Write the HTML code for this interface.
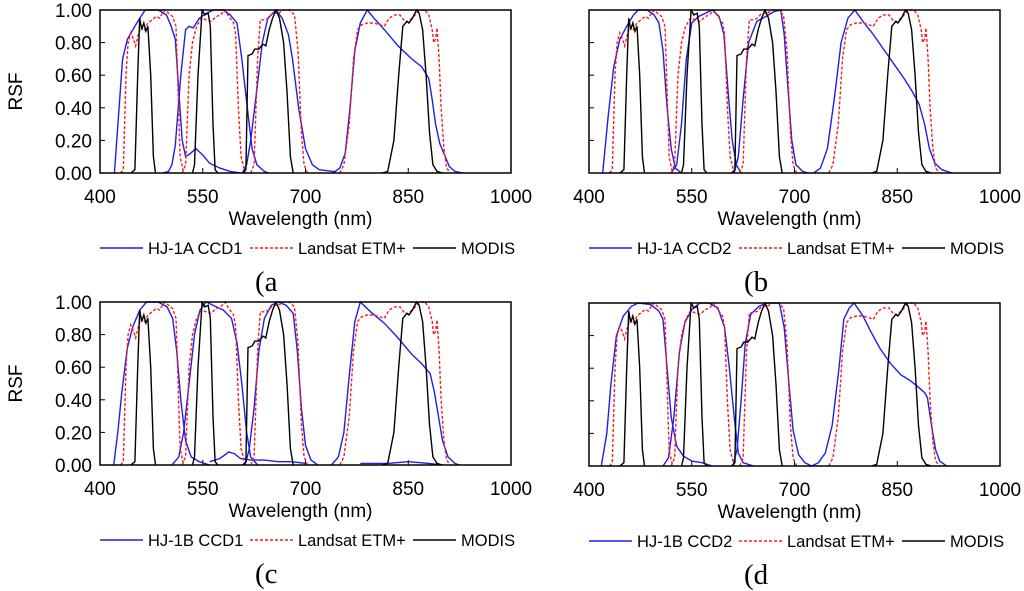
<!DOCTYPE html>
<html><head><meta charset="utf-8"><style>
body{margin:0;background:#fff;}
svg{display:block;font-family:"Liberation Sans",sans-serif;}
</style></head><body>
<svg id="fig" width="1024" height="591" viewBox="0 0 1024 591" xmlns="http://www.w3.org/2000/svg"></svg>
<script>
const modisBands = [
 [[445,0],[451,0.02],[455,0.6],[458,0.95],[461,0.88],[464,0.92],[467,0.87],[470,0.9],[474,0.6],[478,0.1],[481,0]],
 [[535,0],[538,0.05],[543,0.6],[549,1.0],[553,0.97],[558,0.98],[561,0.9],[565,0.3],[568,0.02],[572,0]],
 [[608,0],[613,0.02],[616,0.72],[622,0.73],[626,0.76],[632,0.76],[638,0.79],[642,0.78],[647,0.88],[652,0.95],[657,1.0],[662,0.95],[668,0.8],[673,0.5],[678,0.1],[682,0]],
 [[812,0],[820,0.01],[829,0.2],[836,0.6],[842,0.9],[848,0.93],[851,0.92],[856,0.95],[862,1.0],[866,0.98],[871,0.88],[876,0.6],[881,0.25],[886,0.05],[892,0.01],[900,0]]
];
const landsatBands = [
 [[430,0],[434,0.02],[438,0.6],[441,0.8],[445,0.86],[449,0.82],[452,0.78],[456,0.85],[460,0.9],[465,0.88],[470,0.92],[476,0.94],[482,0.96],[487,0.95],[491,0.98],[495,1.0],[500,0.98],[506,0.96],[511,0.9],[514,0.5],[517,0.1],[522,0]],
 [[520,0],[525,0.05],[530,0.6],[535,0.8],[541,0.9],[548,0.95],[555,0.94],[562,0.93],[570,0.96],[576,0.97],[582,1.0],[588,0.96],[595,0.92],[598,0.85],[602,0.4],[606,0.1],[612,0]],
 [[620,0],[625,0.05],[630,0.7],[634,0.94],[640,0.94],[646,0.95],[652,0.98],[660,0.98],[668,1.0],[676,1.0],[684,0.97],[689,0.75],[694,0.25],[698,0.05],[703,0]],
 [[750,0],[756,0.05],[764,0.3],[770,0.7],[776,0.88],[782,0.91],[790,0.92],[800,0.92],[808,0.91],[815,0.9],[822,0.95],[830,0.97],[838,0.97],[845,0.93],[850,0.93],[858,0.96],[866,1.0],[874,1.0],[880,0.97],[885,0.88],[887,0.8],[890,0.82],[892,0.89],[895,0.7],[898,0.4],[902,0.15],[906,0.03],[912,0]]
];
const hj1aCcd1 = [
 [[421,0],[427,0.35],[433,0.7],[440,0.82],[448,0.88],[458,0.95],[466,1.0],[485,1.0],[497,0.97],[504,0.9],[510,0.82],[515,0.5],[520,0.2],[525,0.1],[532,0.12],[540,0.15],[550,0.11],[560,0.06],[575,0.03],[590,0.01],[605,0]],
 [[492,0],[500,0.01],[505,0.05],[510,0.17],[518,0.6],[525,0.88],[530,0.9],[536,0.89],[545,0.95],[555,0.98],[566,1.0],[580,1.0],[590,0.97],[600,0.92],[607,0.7],[615,0.4],[622,0.15],[629,0.05],[640,0.01],[646,0]],
 [[608,0],[614,0.05],[620,0.2],[630,0.55],[637,0.8],[645,0.95],[657,1.0],[666,0.95],[675,0.85],[681,0.7],[690,0.4],[700,0.15],[710,0.05],[720,0.02],[740,0.01],[745,0.01]],
 [[740,0],[750,0.03],[758,0.12],[765,0.4],[772,0.75],[780,0.92],[790,1.0],[800,0.95],[815,0.88],[835,0.78],[855,0.7],[870,0.65],[880,0.58],[885,0.45],[890,0.3],[896,0.18],[902,0.12],[910,0.04],[918,0.01],[930,0]]
];
const hj1aCcd2 = [
 [[420,0],[428,0.35],[436,0.65],[445,0.82],[455,0.9],[465,0.97],[472,1.0],[485,1.0],[495,0.97],[502,0.92],[508,0.75],[514,0.4],[520,0.15],[526,0.03],[535,0]],
 [[520,0],[528,0.05],[535,0.3],[542,0.7],[550,0.92],[560,0.96],[570,0.98],[580,1.0],[590,0.96],[597,0.85],[603,0.5],[609,0.2],[615,0.05],[622,0]],
 [[612,0],[618,0.1],[625,0.45],[633,0.8],[645,0.93],[658,0.96],[670,0.99],[680,1.0],[685,0.85],[690,0.55],[696,0.2],[702,0.05],[712,0.01],[720,0]],
 [[728,0],[738,0.03],[748,0.15],[758,0.45],[768,0.8],[778,0.95],[788,1.0],[800,0.93],[815,0.85],[830,0.76],[845,0.67],[860,0.58],[872,0.5],[882,0.42],[890,0.3],[897,0.15],[905,0.06],[915,0.02],[930,0]]
];
const hj1bCcd1 = [
 [[420,0],[426,0.2],[432,0.45],[440,0.72],[448,0.85],[458,0.95],[468,1.0],[485,1.0],[498,0.97],[506,0.9],[512,0.7],[518,0.4],[525,0.15],[533,0.05],[545,0.02],[560,0]],
 [[505,0],[515,0.05],[522,0.2],[530,0.5],[538,0.8],[546,0.95],[555,1.0],[565,0.98],[580,0.95],[592,0.9],[600,0.75],[607,0.5],[614,0.2],[620,0.05],[630,0]],
 [[560,0.02],[575,0.04],[588,0.08],[596,0.07],[605,0.04],[620,0.03],[640,0.03],[660,0.02],[680,0.02],[700,0.01]],
 [[612,0],[618,0.1],[625,0.35],[632,0.7],[640,0.9],[650,0.98],[660,1.0],[672,0.98],[682,0.93],[688,0.7],[694,0.35],[700,0.12],[708,0.03],[718,0]],
 [[738,0],[748,0.05],[756,0.2],[764,0.55],[772,0.88],[780,1.0],[795,0.94],[815,0.87],[835,0.78],[855,0.68],[870,0.62],[882,0.56],[888,0.45],[894,0.3],[900,0.15],[908,0.05],[918,0.01],[925,0]],
 [[780,0.01],[820,0.01],[850,0.02],[880,0.01],[900,0]]
];
const hj1bCcd2 = [
 [[418,0],[426,0.2],[432,0.5],[440,0.8],[450,0.92],[462,0.98],[472,1.0],[490,0.99],[502,0.95],[508,0.9],[514,0.6],[520,0.3],[528,0.12],[538,0.06],[550,0.03],[565,0.02],[580,0]],
 [[508,0],[516,0.05],[524,0.3],[532,0.7],[540,0.88],[550,0.96],[562,1.0],[575,1.0],[588,0.97],[598,0.85],[605,0.6],[612,0.3],[618,0.08],[625,0.02],[640,0]],
 [[610,0],[616,0.1],[622,0.4],[628,0.75],[636,0.93],[648,0.98],[660,1.0],[678,1.0],[685,0.85],[692,0.5],[698,0.22],[706,0.07],[715,0.02],[725,0]],
 [[725,0],[735,0.02],[745,0.08],[755,0.25],[765,0.6],[772,0.9],[780,0.97],[787,1.0],[800,0.92],[812,0.82],[825,0.72],[840,0.63],[855,0.56],[870,0.52],[882,0.48],[890,0.45],[894,0.42],[900,0.25],[906,0.1],[912,0.03],[922,0]]
];
const xTicks = [400,550,700,850,1000];
const yTicks = [0,0.2,0.4,0.6,0.8,1.0];

const panels = [
 {id:'a',hj:hj1aCcd1,name:'HJ-1A CCD1',L:100,T:10,labels:true},
 {id:'b',hj:hj1aCcd2,name:'HJ-1A CCD2',L:589,T:10,labels:false},
 {id:'c',hj:hj1bCcd1,name:'HJ-1B CCD1',L:100,T:302,labels:true},
 {id:'d',hj:hj1bCcd2,name:'HJ-1B CCD2',L:589,T:303,labels:false}
];
const W=411,H=163;
const NS='http://www.w3.org/2000/svg';
const svg=document.getElementById('fig');
function mk(tag,attrs,parent){const e=document.createElementNS(NS,tag);for(const k in attrs)e.setAttribute(k,attrs[k]);(parent||svg).appendChild(e);return e;}

panels.forEach(p=>{
  const g=mk('g',{});
  
  
  const xs=w=>p.L+(w-400)/600*W;
  const ys=v=>p.T+H-v*H;
  const clipId='clip'+p.id;
  const cp=mk('clipPath',{id:clipId},g);mk('rect',{x:p.L,y:p.T-1,width:W,height:H+1},cp);
  yTicks.forEach(v=>{
    const t=mk('line',{x1:p.L,x2:p.L+5,y1:ys(v),y2:ys(v),stroke:'#000','stroke-width':1},g);
    
    
    if(p.labels){
      const tx=mk('text',{x:p.L-8,y:ys(v)+7,'text-anchor':'end','font-size':19},g);
      tx.textContent=v.toFixed(2);
      
      
    }
  });
  xTicks.forEach(w=>{
    const t=mk('line',{x1:xs(w),x2:xs(w),y1:p.T+H,y2:p.T+H-5,stroke:'#000','stroke-width':1},g);
    
    
    const tx=mk('text',{x:xs(w),y:p.T+H+30,'text-anchor':'middle','font-size':19},g);
    tx.textContent=w;
    
    
  });
  const xt=mk('text',{x:p.L+W/2-5,y:p.T+H+52,'text-anchor':'middle','font-size':19},g);
  xt.textContent='Wavelength (nm)';
  
  
  if(p.labels){
    const yt=mk('text',{x:22,y:p.T+H/2,'text-anchor':'middle','font-size':19,transform:'rotate(-90 22 '+(p.T+H/2)+')'},g);
    yt.textContent='RSF';
    
    
  }
  const series=[
    {bands:p.hj,color:'#1f1fe6',dash:null,name:'hj-curve'},
    {bands:landsatBands,color:'#ff1a1a',dash:'3,2',name:'landsat-curve'},
    {bands:modisBands,color:'#000',dash:null,name:'modis-curve'}];
  series.forEach(s=>{
    s.bands.forEach(b=>{
      const pts=b.map(q=>xs(q[0]).toFixed(1)+','+ys(q[1]).toFixed(1)).join(' ');
      const a={points:pts,fill:'none',stroke:s.color,'stroke-width':1.4,'clip-path':'url(#'+clipId+')'};
      if(s.dash)a['stroke-dasharray']=s.dash;
      const pl=mk('polyline',a,g);
      
      
    });
  });
  const fr=mk('rect',{x:p.L,y:p.T,width:W,height:H,fill:'none',stroke:'#000','stroke-width':1.5},g);
  
  
  const ly=p.T+H+81, lx=p.L;
  const leg=[{c:'#1f1fe6',d:null,t:p.name,x:lx},{c:'#ff1a1a',d:'3,2',t:'Landsat ETM+',x:lx+150},{c:'#000',d:null,t:'MODIS',x:lx+313}];
  leg.forEach(e=>{
    const lg=mk('g',{},g);
    
    
    const la={x1:e.x,x2:e.x+43,y1:ly-6,y2:ly-6,stroke:e.c,'stroke-width':1.4};
    if(e.d)la['stroke-dasharray']=e.d;
    mk('line',la,lg);
    const t=mk('text',{x:e.x+48,y:ly,'font-size':16.5},lg);
    t.textContent=e.t;
  });
  const cap=mk('text',{x:p.L+155,y:p.T+H+118,'font-size':29,'font-family':'Liberation Serif, serif'},g);
  cap.textContent='('+p.id;
  
  
});
</script>
</body></html>
